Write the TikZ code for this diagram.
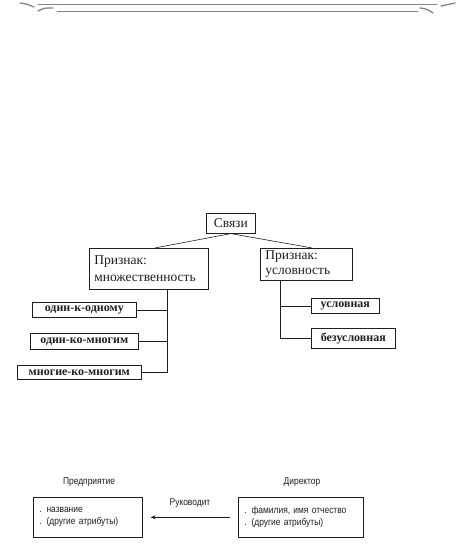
\documentclass[tikz,border=0pt]{standalone}
\usepackage{fontspec}
\setmainfont{Liberation Serif}
\setsansfont{Liberation Sans}
\newfontfamily\narrowsans[FakeStretch=0.86]{Liberation Sans}
\usetikzlibrary{arrows.meta,positioning}
\definecolor{swash}{HTML}{7C8787}
\definecolor{inkgray}{HTML}{1E1E1E}

\begin{document}
\begin{tikzpicture}[
  x=1pt, y=-1pt,
  font=\fontsize{13.5}{17}\selectfont,
  big/.style   = {draw=inkgray, line width=0.6pt, anchor=north west, inner xsep=5pt, inner ysep=2pt,
                  align=left, text=inkgray},
  kind/.style  = {draw=inkgray, line width=0.6pt, anchor=north west, inner sep=0pt, align=center,
                  text=inkgray, font=\fontsize{12}{14}\selectfont\bfseries},
  ent/.style   = {draw=inkgray, line width=0.6pt, anchor=north west, inner xsep=6pt, inner ysep=2pt,
                  minimum height=40pt, align=left, text=inkgray,
                  font=\narrowsans\fontsize{9.8}{12}\selectfont},
  ttl/.style   = {text=inkgray, inner sep=1pt, font=\narrowsans\fontsize{9.8}{12}\selectfont},
  ln/.style    = {draw=inkgray, line width=0.6pt},
  rel/.style   = {-{Stealth[length=5pt, width=4pt]}, draw=inkgray, line width=0.7pt},
  orn/.style   = {draw=swash, line width=0.8pt, line cap=round},
]
\useasboundingbox (0,0) rectangle (460,548);

% --- ornament at the top of the page --------------------------------------------------------------
\draw[orn] (38,4) -- (437,4);
\draw[orn] (57,11.5) -- (418,11.5);
\draw[orn, line width=1.3pt] (20,3) .. controls (27,4) .. (34,7);
\draw[orn, line width=1.3pt] (38,11) .. controls (44,8) .. (53,8);
\draw[orn, line width=1.3pt] (441,6) .. controls (448,4) .. (455,3);
\draw[orn, line width=1.3pt] (420,8) .. controls (427,9) .. (433,13);

% --- the tree of kinds of links -------------------------------------------------------------------
\node[kind, minimum width=49pt, minimum height=20pt, font=\fontsize{13.5}{16}\selectfont]
  (svz) at (206,213) {Связи};
\node[big, text width=109pt, minimum height=41pt] (pm) at (89,248) {Признак:\\множественность};
\node[big, text width=82pt, minimum height=32pt, font=\fontsize{13.5}{15}\selectfont]
  (pu) at (260,248) {Признак:\\условность};

\draw[ln] (svz.south) -- ([xshift=6pt]pm.north);
\draw[ln] (svz.south) -- ([xshift=6pt]pu.north);

% left branch: three boxes hang off one trunk
\node[kind, minimum width=104pt, minimum height=15pt] (o1) at (32,302) {один-к-одному};
\node[kind, minimum width=108pt, minimum height=16pt] (o2) at (30,333) {один-ко-многим};
\node[kind, minimum width=124pt, minimum height=14pt] (o3) at (17,365) {многие-ко-многим};
\coordinate (trL) at ([xshift=18.5pt]pm.south);
\draw[ln] (trL) |- (o3.east);
\draw[ln] (trL) |- (o2.east);
\draw[ln] (trL) |- (o1.east);

% right branch
\node[kind, minimum width=68pt, minimum height=15pt] (u1) at (311,298) {условная};
\node[kind, minimum width=84pt, minimum height=20pt] (u2) at (311,328) {безусловная};
\coordinate (trR) at ([xshift=-26pt]pu.south);
\draw[ln] (trR) |- (u2.west);
\draw[ln] (trR) |- (u1.west);

% --- two entities and the relationship between them -----------------------------------------------
\node[ent, text width=97pt] (firm) at (33,497) {. название\\. (другие атрибуты)};
\node[ent, text width=113pt] (boss) at (238,497) {. фамилия, имя отчество\\. (другие атрибуты)};
\node[ttl] (firmT) at (89,482) {Предприятие};
\node[ttl] (bossT) at (302,482) {Директор};

\draw[rel, shorten >=8pt, shorten <=8pt] (boss.west) -- (firm.east);
\node[ttl] (runs) at (190,503) {Руководит};

\end{tikzpicture}
\end{document}
